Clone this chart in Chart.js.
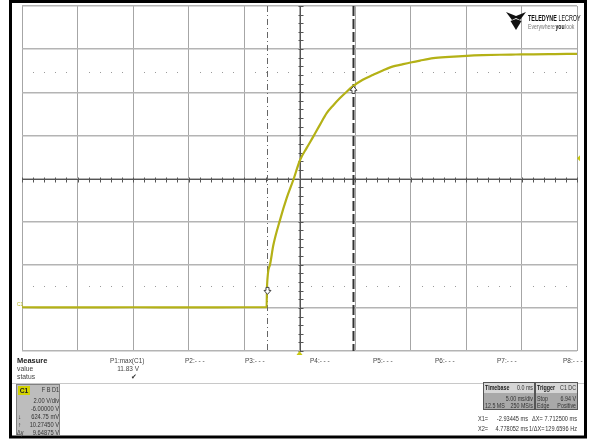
<!DOCTYPE html>
<html>
<head>
<meta charset="utf-8">
<script src="https://cdn.jsdelivr.net/npm/chart.js@4.4.0/dist/chart.umd.min.js"></script>
<style>
  html, body { margin: 0; padding: 0; background: #fff; }
  #wrap { width: 590px; height: 439px; position: relative; }
</style>
</head>
<body>
<div id="wrap"><canvas id="scope"></canvas></div>
<script>
// C1 trace, time in ms, voltage in V
const timeMs = [-25, -20, -15, -10, -5, -2.96, -2.93, -2.66, -2.36, -1.76, -1.15, -0.56, 0.05, 0.65, 1.24, 1.85, 2.45, 3.05, 3.65, 4.2, 4.79, 5.7, 6.65, 7.55, 8.45, 9.05, 10.0, 10.86, 12.05, 13.5, 15.06, 16.5, 18.06, 19.5, 21.07, 23.0, 25];
const voltsC1 = [0.03, 0.02, 0.03, 0.02, 0.03, 0.03, 0.97, 2.0, 2.9, 4.07, 5.1, 5.93, 6.86, 7.42, 7.94, 8.5, 9.03, 9.4, 9.73, 10.0, 10.27, 10.58, 10.81, 11.02, 11.2, 11.27, 11.38, 11.47, 11.58, 11.64, 11.69, 11.72, 11.74, 11.75, 11.76, 11.77, 11.78];

// screen settings
const timeRange = [-25, 25];      // 5 ms/div, 10 div
const voltRange = [-2, 14];       // 2 V/div, offset -6 V
const cursorX = [-2.93445, 4.778052];
const cursorY = [0.62475, 10.2745];
const refLevels = [10.95, 1.0];
const triggerLevel = 6.94;

// readout texts
const measureNames = ['P1:max(C1)', 'P2:- - -', 'P3:- - -', 'P4:- - -', 'P5:- - -', 'P6:- - -', 'P7:- - -', 'P8:- - -'];
const measureValues = ['11.83 V'];
const channelInfo = ['2.00 V/div', '-6.00000 V', '624.75 mV', '10.27450 V', '9.64875 V'];

const FONT = '"Liberation Sans", Arial, sans-serif';

// text helper, sx squeezes the text horizontally (scope font is narrow)
function txt(ctx, s, x, y, size, align, color, bold, sx) {
    sx = sx || 1;
    ctx.save();
    ctx.font = (bold ? 'bold ' : '') + size + 'px ' + FONT;
    ctx.textAlign = align || 'left';
    ctx.textBaseline = 'middle';
    ctx.fillStyle = color || '#333';
    ctx.translate(x, y);
    ctx.scale(sx, 1);
    ctx.fillText(s, 0, 0);
    ctx.restore();
}
function txtWidth(ctx, s, size, bold, sx) {
    ctx.save();
    ctx.font = (bold ? 'bold ' : '') + size + 'px ' + FONT;
    const w = ctx.measureText(s).width * (sx || 1);
    ctx.restore();
    return w;
}

const scopePlugin = {
    id: 'scope',
    beforeDatasetsDraw(chart) {
        const ctx = chart.ctx, xs = chart.scales.x, ys = chart.scales.y, a = chart.chartArea;
        ctx.save();
        // dotted reference rows
        ctx.fillStyle = '#9a9a9a';
        refLevels.forEach(v => {
            const y = Math.round(ys.getPixelForValue(v));
            for (let t = timeRange[0]; t <= timeRange[1]; t += 1) {
                if (Math.abs(t % 5) < 0.01) continue;
                ctx.fillRect(Math.round(xs.getPixelForValue(t)), y, 1, 1);
            }
        });
        // centre axes with minor ticks
        const cx = Math.round(xs.getPixelForValue(0)) + 0.5;
        const cy = Math.round(ys.getPixelForValue(6)) + 0.5;
        ctx.strokeStyle = '#555';
        ctx.lineWidth = 1;
        ctx.beginPath();
        ctx.moveTo(cx, a.top); ctx.lineTo(cx, a.bottom);
        ctx.moveTo(a.left, cy); ctx.lineTo(a.right, cy);
        for (let t = timeRange[0]; t <= timeRange[1]; t += 1) {
            const x = Math.round(xs.getPixelForValue(t)) + 0.5;
            ctx.moveTo(x, cy - 2); ctx.lineTo(x, cy + 3);
        }
        for (let v = voltRange[0]; v <= voltRange[1] + 0.01; v += 0.4) {
            const y = Math.round(ys.getPixelForValue(v)) + 0.5;
            ctx.moveTo(cx - 2, y); ctx.lineTo(cx + 3, y);
        }
        ctx.stroke();
        // cursors
        const x1 = Math.round(xs.getPixelForValue(cursorX[0])) + 0.5;
        const x2 = Math.round(xs.getPixelForValue(cursorX[1])) + 0.5;
        ctx.strokeStyle = '#666';
        ctx.lineWidth = 1;
        ctx.setLineDash([6, 3, 1, 3]);
        ctx.beginPath(); ctx.moveTo(x1, a.top); ctx.lineTo(x1, a.bottom); ctx.stroke();
        ctx.strokeStyle = '#333';
        ctx.lineWidth = 2;
        ctx.setLineDash([10, 3]);
        ctx.beginPath(); ctx.moveTo(x2, a.top); ctx.lineTo(x2, a.bottom); ctx.stroke();
        ctx.restore();
    },
    afterDatasetsDraw(chart) {
        const ctx = chart.ctx, xs = chart.scales.x, ys = chart.scales.y, a = chart.chartArea;
        ctx.save();
        // cursor arrows
        const arrow = (x, y, dir) => {
            ctx.fillStyle = '#fff';
            ctx.strokeStyle = '#444';
            ctx.lineWidth = 1;
            ctx.beginPath();
            ctx.moveTo(x - 1.5, y - 5 * dir);
            ctx.lineTo(x + 1.5, y - 5 * dir);
            ctx.lineTo(x + 1.5, y - 2 * dir);
            ctx.lineTo(x + 3.5, y - 2 * dir);
            ctx.lineTo(x, y + 2 * dir);
            ctx.lineTo(x - 3.5, y - 2 * dir);
            ctx.lineTo(x - 1.5, y - 2 * dir);
            ctx.closePath();
            ctx.fill(); ctx.stroke();
        };
        arrow(Math.round(xs.getPixelForValue(cursorX[0])) + 0.5, ys.getPixelForValue(cursorY[0]) - 2, 1);
        arrow(Math.round(xs.getPixelForValue(cursorX[1])) + 0.5, ys.getPixelForValue(cursorY[1]) + 2, -1);
        // trigger level marker
        const ty = ys.getPixelForValue(triggerLevel);
        ctx.fillStyle = '#c8c810';
        ctx.beginPath();
        ctx.moveTo(a.right, ty); ctx.lineTo(a.right + 3, ty - 3); ctx.lineTo(a.right + 3, ty + 3);
        ctx.closePath(); ctx.fill();
        // trigger position marker
        const tx = xs.getPixelForValue(0);
        ctx.beginPath();
        ctx.moveTo(tx, a.bottom); ctx.lineTo(tx - 3, a.bottom + 4); ctx.lineTo(tx + 3, a.bottom + 4);
        ctx.closePath(); ctx.fill();
        // channel ground marker
        txt(ctx, 'C1', a.left - 5, ys.getPixelForValue(0) - 3, 5, 'left', '#b8b820');
        ctx.restore();
    },
    afterDraw(chart) {
        const ctx = chart.ctx;
        ctx.save();
        // outer frame
        ctx.strokeStyle = '#000';
        ctx.lineWidth = 3;
        ctx.strokeRect(10.5, 1.5, 575, 435.5);

        // logo
        ctx.fillStyle = '#111';
        ctx.beginPath();
        ctx.moveTo(506, 12); ctx.lineTo(516, 16); ctx.lineTo(526, 12);
        ctx.lineTo(520, 20); ctx.lineTo(516, 18); ctx.lineTo(512, 20);
        ctx.closePath(); ctx.fill();
        ctx.beginPath();
        ctx.moveTo(510.5, 21); ctx.lineTo(516, 19); ctx.lineTo(521.5, 21);
        ctx.lineTo(516, 30); ctx.closePath(); ctx.fill();
        const lsx = 0.57;
        txt(ctx, 'TELEDYNE', 528, 18, 9.5, 'left', '#111', true, lsx);
        const w1 = txtWidth(ctx, 'TELEDYNE ', 9.5, true, lsx);
        txt(ctx, 'LECROY', 528 + w1, 18, 9.5, 'left', '#111', false, lsx);
        const esx = 0.68;
        txt(ctx, 'Everywhere', 528, 26.5, 7.5, 'left', '#777', false, esx);
        const w2 = txtWidth(ctx, 'Everywhere', 7.5, false, esx);
        txt(ctx, 'you', 528 + w2 + 0.5, 26.5, 7.5, 'left', '#111', true, esx);
        const w3 = txtWidth(ctx, 'you', 7.5, true, esx);
        txt(ctx, 'look', 528 + w2 + w3 + 1, 26.5, 7.5, 'left', '#777', false, esx);

        // measure table
        txt(ctx, 'Measure', 17, 361, 7.5, 'left', '#222', true);
        txt(ctx, 'value', 17, 369, 7.5, 'left', '#444', false, 0.9);
        txt(ctx, 'status', 17, 377, 7.5, 'left', '#444', false, 0.9);
        const colX = [110, 185, 245, 310, 373, 435, 497, 563];
        measureNames.forEach((n, i) => txt(ctx, n, colX[i], 361, 7.5, 'left', '#444', false, 0.86));
        txt(ctx, measureValues[0], 139, 369, 7.5, 'right', '#444', false, 0.86);
        txt(ctx, '\u2714', 137, 377, 7, 'right', '#333');
        ctx.strokeStyle = '#c8c8c8';
        ctx.lineWidth = 1;
        ctx.beginPath(); ctx.moveTo(12, 383.5); ctx.lineTo(584, 383.5); ctx.stroke();

        // channel box
        ctx.fillStyle = '#bdbdbd';
        ctx.fillRect(16, 384, 44, 52);
        ctx.strokeStyle = '#808080';
        ctx.strokeRect(16.5, 384.5, 43, 51);
        ctx.fillStyle = '#d2d200';
        ctx.fillRect(18, 386, 12, 9);
        txt(ctx, 'C1', 24, 391, 7.5, 'center', '#222', true, 0.9);
        txt(ctx, 'F B D1', 59, 390, 6.5, 'right', '#333', false, 0.85);
        const rowY = [401, 409, 417, 425, 433];
        channelInfo.forEach((s, i) => txt(ctx, s, 59, rowY[i], 7, 'right', '#333', false, 0.82));
        txt(ctx, '\u2193', 18, 417, 6.5, 'left', '#333');
        txt(ctx, '\u2191', 18, 425, 6.5, 'left', '#333');
        txt(ctx, '\u0394y', 17, 433, 6.5, 'left', '#333', false, 0.85);

        // timebase / trigger boxes
        const bsx = 0.76;
        ctx.fillStyle = '#a9a9a9';
        ctx.fillRect(483, 382, 95, 28);
        ctx.fillStyle = '#d6d6d6';
        ctx.fillRect(483, 382, 52, 11);
        ctx.fillRect(535, 382, 43, 11);
        ctx.strokeStyle = '#555';
        ctx.strokeRect(483.5, 382.5, 51, 27);
        ctx.strokeRect(535.5, 382.5, 42, 27);
        txt(ctx, 'Timebase', 485, 388, 7, 'left', '#222', true, bsx);
        txt(ctx, '0.0 ms', 533, 388, 7, 'right', '#333', false, bsx);
        txt(ctx, '5.00 ms/div', 533, 399, 7, 'right', '#333', false, bsx);
        txt(ctx, '12.5 MS', 485, 406, 7, 'left', '#333', false, bsx);
        txt(ctx, '250 MS/s', 533, 406, 7, 'right', '#333', false, bsx);
        txt(ctx, 'Trigger', 537, 388, 7, 'left', '#222', true, bsx);
        txt(ctx, 'C1 DC', 576, 388, 7, 'right', '#333', false, bsx);
        txt(ctx, 'Stop', 537, 399, 7, 'left', '#333', false, bsx);
        txt(ctx, '6.94 V', 576, 399, 7, 'right', '#333', false, bsx);
        txt(ctx, 'Edge', 537, 406, 7, 'left', '#333', false, bsx);
        txt(ctx, 'Positive', 576, 406, 7, 'right', '#333', false, bsx);

        // cursor readouts
        const csx = 0.8;
        txt(ctx, 'X1=', 478, 419, 7, 'left', '#333', false, csx);
        txt(ctx, '-2.93445 ms', 528, 419, 7, 'right', '#333', false, csx);
        txt(ctx, '\u0394X=', 532, 419, 7, 'left', '#333', false, csx);
        txt(ctx, '7.712500 ms', 577, 419, 7, 'right', '#333', false, csx);
        txt(ctx, 'X2=', 478, 429, 7, 'left', '#333', false, csx);
        txt(ctx, '4.778052 ms', 528, 429, 7, 'right', '#333', false, csx);
        txt(ctx, '1/\u0394X=', 529, 429, 7, 'left', '#333', false, csx);
        txt(ctx, '129.6596 Hz', 577, 429, 7, 'right', '#333', false, csx);
        ctx.restore();
    }
};

const ctx = document.getElementById('scope').getContext('2d');
const scopeChart = new Chart(ctx, {
    type: 'line',
    data: {
        datasets: [{
            data: timeMs.map((t, i) => ({ x: t, y: voltsC1[i] })),
            borderColor: '#b4b116',
            borderWidth: 2.2,
            pointRadius: 0,
            cubicInterpolationMode: 'monotone'
        }]
    },
    options: {
        responsive: true,
        maintainAspectRatio: false,
        animation: false,
        layout: { padding: { left: 22, right: 13, top: 6, bottom: 88 } },
        plugins: { legend: { display: false }, tooltip: { enabled: false } },
        scales: {
            x: {
                type: 'linear', min: timeRange[0], max: timeRange[1],
                ticks: { display: false, stepSize: 5 },
                grid: { color: '#a6a6a6', lineWidth: 1, drawTicks: false },
                border: { display: false }
            },
            y: {
                min: voltRange[0], max: voltRange[1],
                ticks: { display: false, stepSize: 2 },
                grid: { color: '#b4b4b4', lineWidth: 1.5, drawTicks: false },
                border: { display: false }
            }
        }
    },
    plugins: [scopePlugin]
});
</script>
</body>
</html>
